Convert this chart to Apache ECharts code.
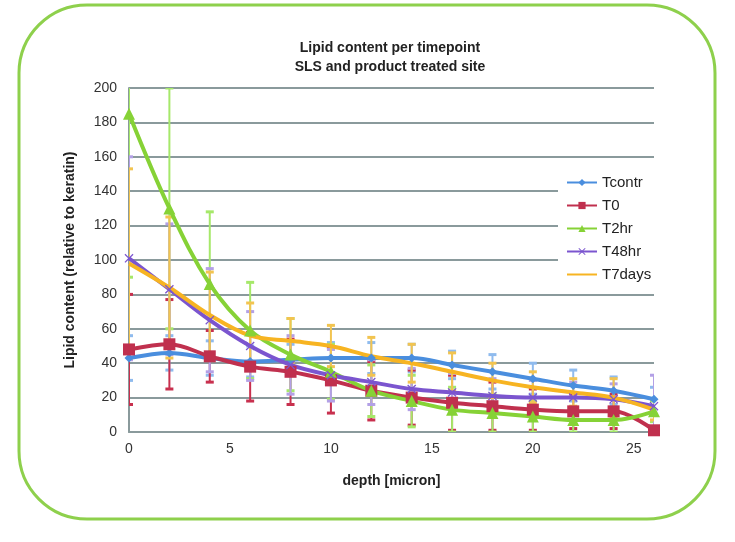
<!DOCTYPE html>
<html>
<head>
    <meta charset="utf-8"/>
    <title>Lipid content per timepoint</title>
    <script src="https://cdn.jsdelivr.net/npm/echarts@6/dist/echarts.min.js"></script>
    <style>
        html, body { margin: 0; padding: 0; background: #fff; }
        #main { width: 735px; height: 542px; }
    </style>
</head>
<body>
<div id="main"></div>
<script>
    // depth points (micron)
    var depth = [0, 2, 4, 6, 8, 10, 12, 14, 16, 18, 20, 22, 24, 26];
    var seriesNames = ['Tcontr', 'T0', 'T2hr', 'T48hr', 'T7days'];

    // mean values
    var tcontr = [43, 46, 43, 41, 42, 43, 43, 43, 39, 35, 31, 27, 24, 19];
    var t0 = [48, 51, 44, 38, 35, 30, 24, 20, 17, 15, 13, 12, 12, 1];
    var t2hr = [185, 130, 86, 59, 45, 35, 24, 18, 13, 11, 9, 7, 7, 12];
    var t48hr = [101, 83, 65, 50, 39, 33, 29, 25, 23, 21, 20, 20, 19, 15];
    var t7days = [98, 84, 68, 56, 53, 50, 44, 40, 35, 30, 26, 23, 20, 13];

    // error bar half widths
    var errTcontr = [13, 10, 10, 9, 9, 9, 9, 8, 8, 10, 9, 9, 8, 7];
    var errT0 = [32, 26, 15, 20, 19, 19, 17, 16, 16, 14, 12, 10, 10, 2];
    var errT2hr = [95, 70, 42, 28, 21, 16, 15, 15, 13, 11, 9, 7, 7, 6];
    var errT48hr = [59, 38, 30, 20, 17, 15, 13, 12, 11, 10, 10, 9, 9, 18];
    var errT7days = [55, 41, 25, 19, 13, 12, 11, 11, 11, 10, 9, 8, 11, 6];

    var yTicks = [0, 20, 40, 60, 80, 100, 120, 140, 160, 180, 200];

    var colors = ['#4a8ede', '#c0304e', '#86d236', '#7b55cf', '#f7b422'];
    var errColors = ['#8fbbee', '#c8304e', '#a6e86a', '#b3a0e6', '#f2c450'];
    var symbols = ['diamond', 'rect', 'triangle',
        'path://M0,1L1,0L5,4L9,0L10,1L6,5L10,9L9,10L5,6L1,10L0,9L4,5Z', 'none'];
    var symbolSizes = [9, 12, 12, 9, 0];

    var means = [tcontr, t0, t2hr, t48hr, t7days];
    var errs = [errTcontr, errT0, errT2hr, errT48hr, errT7days];

    var chart = echarts.init(document.getElementById('main'));

    var series = [];
    // error bars first so the lines sit on top
    means.forEach(function (vals, s) {
        var data = depth.map(function (d, i) {
            return [d, vals[i] - errs[s][i], vals[i] + errs[s][i]];
        });
        series.push({
            type: 'custom',
            name: seriesNames[s] + ' err',
            clip: true,
            z: 1,
            silent: true,
            data: data,
            renderItem: function (params, api) {
                var x = api.value(0);
                var lo = api.coord([x, api.value(1)]);
                var hi = api.coord([x, api.value(2)]);
                var c = errColors[s];
                var style = {stroke: c, lineWidth: 2};
                return {
                    type: 'group',
                    children: [
                        {type: 'line', shape: {x1: lo[0], y1: lo[1], x2: hi[0], y2: hi[1]}, style: style},
                        {type: 'line', shape: {x1: lo[0] - 4, y1: lo[1], x2: lo[0] + 4, y2: lo[1]}, style: {stroke: c, lineWidth: 3}},
                        {type: 'line', shape: {x1: hi[0] - 4, y1: hi[1], x2: hi[0] + 4, y2: hi[1]}, style: {stroke: c, lineWidth: 3}}
                    ]
                };
            }
        });
    });

    means.forEach(function (vals, s) {
        series.push({
            type: 'line',
            name: seriesNames[s],
            z: 3,
            smooth: 0.35,
            symbol: symbols[s],
            symbolSize: symbolSizes[s],
            showSymbol: s !== 4,
            lineStyle: {width: 4, color: colors[s]},
            itemStyle: {color: colors[s]},
            data: depth.map(function (d, i) {
                return [d, vals[i]];
            })
        });
    });

    // legend entries: small markers, none for T7days
    var legendData = seriesNames.map(function (n, i) {
        var item = {name: n};
        if (i === 4) {
            item.itemStyle = {opacity: 0};
        }
        return item;
    });

    var option = {
        animation: false,
        textStyle: {fontFamily: 'Liberation Sans, Arial, sans-serif'},
        title: {
            text: 'Lipid content per timepoint\nSLS and product treated site',
            left: 385,
            top: 34,
            textAlign: 'center',
            textStyle: {fontSize: 14, fontWeight: 'bold', color: '#222', lineHeight: 19}
        },
        graphic: [{
            type: 'rect',
            z: -10,
            shape: {x: 19, y: 5, width: 696, height: 514, r: 68},
            style: {fill: 'none', stroke: '#8ed04c', lineWidth: 3}
        }],
        legend: {
            orient: 'vertical',
            left: 558,
            top: 171,
            itemGap: 8,
            itemWidth: 30,
            itemHeight: 9,
            padding: [4, 8],
            backgroundColor: '#fff',
            data: legendData,
            textStyle: {fontSize: 15, color: '#222'}
        },
        grid: {left: 129, right: 81, top: 88, bottom: 110},
        xAxis: {
            type: 'value',
            min: 0,
            max: 26,
            interval: 5,
            name: 'depth [micron]',
            nameLocation: 'middle',
            nameGap: 42,
            nameTextStyle: {fontSize: 14, fontWeight: 'bold', color: '#222'},
            axisLine: {lineStyle: {color: '#8a9a9c', width: 2}},
            axisTick: {show: false},
            splitLine: {show: false},
            axisLabel: {fontSize: 14, color: '#333', margin: 10, showMaxLabel: false}
        },
        yAxis: {
            type: 'value',
            min: yTicks[0],
            max: yTicks[yTicks.length - 1],
            interval: 20,
            name: 'Lipid content (relative to keratin)',
            nameLocation: 'middle',
            nameGap: 52,
            nameTextStyle: {fontSize: 14, fontWeight: 'bold', color: '#222'},
            axisLine: {show: true, lineStyle: {color: '#8a9a9c', width: 2}},
            axisTick: {show: false},
            splitLine: {lineStyle: {color: '#8a9a9c', width: 2}},
            axisLabel: {fontSize: 14, color: '#333', margin: 12}
        },
        series: series
    };
    chart.setOption(option);
</script>
</body>
</html>
